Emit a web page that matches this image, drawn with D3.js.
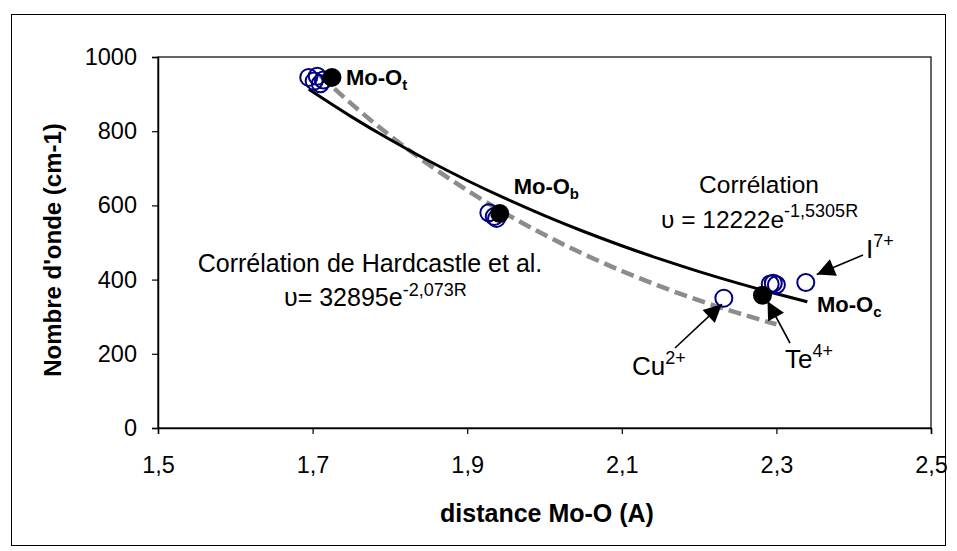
<!DOCTYPE html>
<html>
<head>
<meta charset="utf-8">
<script src="https://cdn.jsdelivr.net/npm/d3@7"></script>
<style>
  html, body { margin: 0; padding: 0; background: #fff; }
  svg { display: block; font-family: "Liberation Sans", Arial, sans-serif; }
</style>
</head>
<body>
<svg id="chart" width="957" height="551"></svg>
<script>
// Measured Mo-O bonds: distance (Å) and wavenumber (cm-1)
const openR  = [1.695, 1.702, 1.706, 1.710, 1.714, 1.928, 1.935, 1.938, 2.232, 2.292, 2.296, 2.300, 2.338];
const openNu = [945,   935,   948,   928,   938,   580,   570,   565,   350,   388,   390,   386,   392];
// Reference bonds Mo-Ot, Mo-Ob, Mo-Oc
const refR   = [1.725, 1.942, 2.282];
const refNu  = [945,   578,   358];

// Exponential correlations  υ = A·e^(k·R)
const fitA = 12222, fitK = -1.5305;        // this work
const hcA  = 32895, hcK  = -2.073;         // Hardcastle et al.
const fitR = [1.695, 1.75, 1.80, 1.85, 1.90, 1.95, 2.00, 2.05, 2.10, 2.15, 2.20, 2.25, 2.30, 2.34];
const hcR  = [1.710, 1.75, 1.80, 1.85, 1.90, 1.95, 2.00, 2.05, 2.10, 2.15, 2.20, 2.25, 2.30];

const xTicks = [1.5, 1.7, 1.9, 2.1, 2.3, 2.5];
const yTicks = [0, 200, 400, 600, 800, 1000];

const svg = d3.select("#chart");
const plot = { left: 158, top: 57, right: 931, bottom: 428 };

const x = d3.scaleLinear().domain([1.5, 2.5]).range([plot.left, plot.right]);
const y = d3.scaleLinear().domain([0, 1000]).range([plot.bottom, plot.top]);
const comma = v => d3.format(".1f")(v).replace(".", ",");

// chart frame
svg.append("rect").attr("x", 11.5).attr("y", 14.5).attr("width", 934).attr("height", 531)
  .attr("fill", "#fff").attr("stroke", "#000").attr("stroke-width", 1);

// plot area
svg.append("rect").attr("x", plot.left).attr("y", plot.top)
  .attr("width", plot.right - plot.left).attr("height", plot.bottom - plot.top)
  .attr("fill", "none").attr("stroke", "#000").attr("stroke-width", 1.2);

const gx = svg.append("g").attr("transform", `translate(0,${plot.bottom})`)
  .call(d3.axisBottom(x).tickValues(xTicks).tickFormat(comma).tickSize(6).tickPadding(22));
const gy = svg.append("g").attr("transform", `translate(${plot.left},0)`)
  .call(d3.axisLeft(y).tickValues(yTicks).tickFormat(d3.format("d")).tickSize(6).tickPadding(15));
[gx, gy].forEach(g => {
  g.select(".domain").attr("stroke", "#000").attr("stroke-width", 1.5);
  g.selectAll(".tick line").attr("stroke", "#000").attr("stroke-width", 1.2);
  g.selectAll(".tick text").attr("font-size", 23.5).attr("fill", "#000")
    .attr("font-family", "Liberation Sans, Arial, sans-serif");
});

// axis titles
svg.append("text").attr("x", 547).attr("y", 522).attr("text-anchor", "middle")
  .attr("font-size", 25).attr("font-weight", "bold").text("distance Mo-O (A)");
svg.append("text").attr("transform", "translate(61,250) rotate(-90)").attr("text-anchor", "middle")
  .attr("font-size", 24).attr("font-weight", "bold").text("Nombre d'onde (cm-1)");

// correlation curves
const line = d3.line().x(d => x(d[0])).y(d => y(d[1])).curve(d3.curveMonotoneX);
svg.append("path").datum(hcR.map(r => [r, hcA * Math.exp(hcK * r)]))
  .attr("d", line).attr("fill", "none").attr("stroke", "#8c8c8c")
  .attr("stroke-width", 4.5).attr("stroke-dasharray", "13,6");
svg.append("path").datum(fitR.map(r => [r, fitA * Math.exp(fitK * r)]))
  .attr("d", line).attr("fill", "none").attr("stroke", "#000").attr("stroke-width", 3);

// data points
svg.append("g").selectAll("circle").data(openR.map((r, i) => [r, openNu[i]])).join("circle")
  .attr("cx", d => x(d[0])).attr("cy", d => y(d[1])).attr("r", 8.5)
  .attr("fill", "none").attr("stroke", "#000080").attr("stroke-width", 2);
svg.append("g").selectAll("circle").data(refR.map((r, i) => [r, refNu[i]])).join("circle")
  .attr("cx", d => x(d[0])).attr("cy", d => y(d[1])).attr("r", 9.5).attr("fill", "#000");

// arrows pointing to individual bonds
svg.append("defs").append("marker").attr("id", "head")
  .attr("viewBox", "0 0 10 10").attr("refX", 10).attr("refY", 5)
  .attr("markerWidth", 22).attr("markerHeight", 18).attr("markerUnits", "userSpaceOnUse")
  .attr("orient", "auto")
  .append("path").attr("d", "M0,0 L10,5 L0,10 Z").attr("fill", "#000");
const arrows = [
  { from: [675, 348], pt: [openR[8], openNu[8]], off: [-2, 6] },   // Cu2+
  { from: [790, 343], pt: [refR[2], refNu[2]], off: [5, 6] },      // Te4+
  { from: [863, 255], pt: [openR[12], openNu[12]], off: [11, -8] } // I7+
];
arrows.forEach(a => {
  svg.append("line").attr("x1", a.from[0]).attr("y1", a.from[1])
    .attr("x2", x(a.pt[0]) + a.off[0]).attr("y2", y(a.pt[1]) + a.off[1])
    .attr("stroke", "#000").attr("stroke-width", 1.6).attr("marker-end", "url(#head)");
});

// labels
function label(xp, yp, parts, opts = {}) {
  const t = svg.append("text").attr("x", xp).attr("y", yp)
    .attr("font-size", opts.size || 24).attr("font-weight", opts.bold ? "bold" : "normal")
    .attr("text-anchor", opts.anchor || "start");
  parts.forEach(p => {
    const s = t.append("tspan").text(p.t);
    if (p.sup) s.attr("font-size", p.size || 17).attr("dy", p.dy);
    if (p.dy !== undefined && !p.sup) s.attr("dy", p.dy);
    if (p.size && !p.sup) s.attr("font-size", p.size);
  });
  return t;
}
const bx = r => x(r), by = v => y(v);
label(bx(refR[0]) + 14, by(refNu[0]) + 8, [{ t: "Mo-O" }, { t: "t", sup: true, size: 15, dy: 5 }], { bold: true, size: 22 });
label(bx(refR[1]) + 14, by(refNu[1]) - 20, [{ t: "Mo-O" }, { t: "b", sup: true, size: 15, dy: 5 }], { bold: true, size: 22 });
label(817, 312, [{ t: "Mo-O" }, { t: "c", sup: true, size: 15, dy: 5 }], { bold: true, size: 22 });

label(759, 193, [{ t: "Corrélation" }], { anchor: "middle", size: 24.5 });
label(661, 228, [{ t: "υ = 12222e" }, { t: "-1,5305R", sup: true, size: 18, dy: -11 }], { size: 24.5 });
label(370, 272, [{ t: "Corrélation de Hardcastle et al." }], { anchor: "middle", size: 25 });
label(284, 306, [{ t: "υ= 32895e" }, { t: "-2,073R", sup: true, size: 18, dy: -10 }], { size: 25 });

label(632, 375, [{ t: "Cu" }, { t: "2+", sup: true, size: 18, dy: -11 }], { size: 26 });
label(785, 368, [{ t: "Te" }, { t: "4+", sup: true, size: 18, dy: -11 }], { size: 26 });
label(866, 258, [{ t: "I" }, { t: "7+", sup: true, size: 18, dy: -11 }], { size: 26 });
</script>
</body>
</html>
